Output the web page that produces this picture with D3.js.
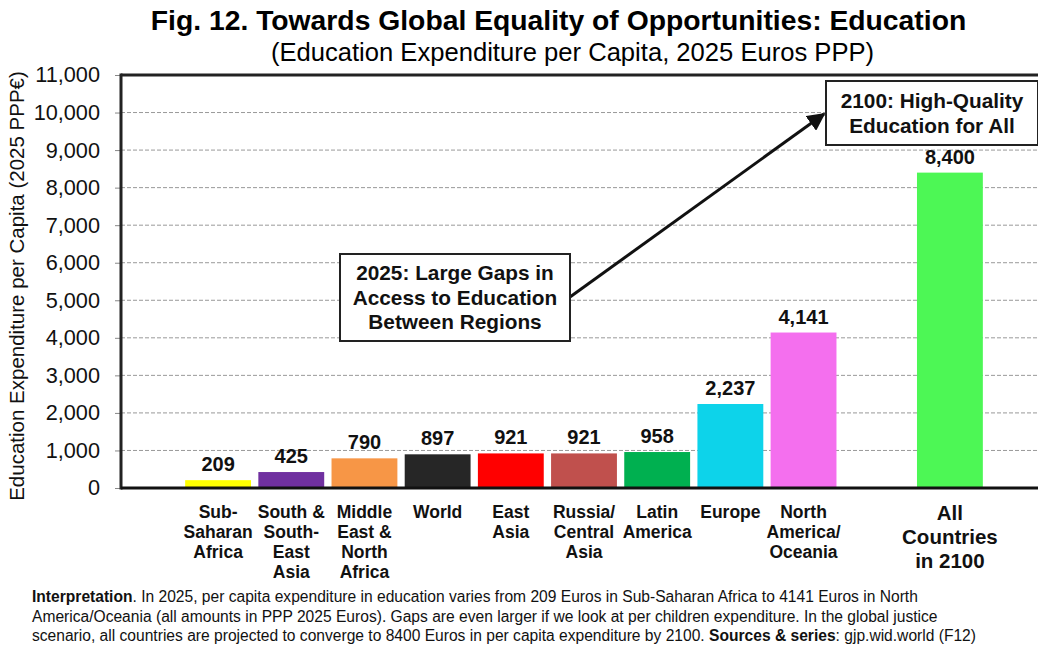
<!DOCTYPE html>
<html><head><meta charset="utf-8">
<script src="https://cdn.jsdelivr.net/npm/d3@7"></script>
<style>body{margin:0;background:#fff}svg{display:block}</style>
</head><body>
<svg id="c" width="1038" height="648"></svg>
<script>
const categories = ["Sub-Saharan Africa","South & South-East Asia","Middle East & North Africa","World","East Asia","Russia/ Central Asia","Latin America","Europe","North America/ Oceania","gap","All Countries in 2100"];
const categoryLines = [["Sub-","Saharan","Africa"],["South &","South-","East","Asia"],["Middle","East &","North","Africa"],["World"],["East","Asia"],["Russia/","Central","Asia"],["Latin","America"],["Europe"],["North","America/","Oceania"],[],["All","Countries","in 2100"]];
const values = [209,425,790,897,921,921,958,2237,4141,null,8400];
const colors = ["#FFFF00","#7030A0","#F79646","#262626","#FF0000","#C0504D","#00B050","#0DD3EA","#F46FEE",null,"#4DF755"];
const yTicks = [0,1000,2000,3000,4000,5000,6000,7000,8000,9000,10000,11000];

const svg = d3.select("#c");
const font = "'Liberation Sans', Arial, sans-serif";
const pLeft = 121, pRight = 1040, pTop = 75, pBottom = 488;
const y = d3.scaleLinear().domain([0,11000]).range([pBottom, pTop]);
const x = d3.scaleBand().domain(categories).range([181.5, 986.5]).paddingInner(0.1).paddingOuter(0.05);

// title
svg.append("text").attr("x",558.5).attr("y",30).attr("text-anchor","middle")
  .style("font-family",font).style("font-weight","bold").style("font-size","28.3px")
  .text("Fig. 12. Towards Global Equality of Opportunities: Education");
svg.append("text").attr("x",572.5).attr("y",61).attr("text-anchor","middle")
  .style("font-family",font).style("font-size","25.6px")
  .text("(Education Expenditure per Capita, 2025 Euros PPP)");

// grid
svg.append("g").selectAll("line").data(yTicks.filter(d=>d>0 && d<11000)).join("line")
  .attr("x1",pLeft).attr("x2",pRight).attr("y1",d=>y(d)).attr("y2",d=>y(d))
  .attr("stroke","#999").attr("stroke-width",1).attr("stroke-dasharray","4,2");

// y axis
const ya = svg.append("g").attr("transform",`translate(${pLeft},0)`)
  .call(d3.axisLeft(y).tickValues(yTicks).tickSize(6).tickPadding(15).tickFormat(d3.format(",")));
ya.select(".domain").remove();
ya.selectAll(".tick line").attr("stroke","#888");
ya.selectAll("text").style("font-family",font).style("font-size","21.7px").attr("fill","#111");

// frame
svg.append("line").attr("x1",pLeft).attr("x2",pRight).attr("y1",pTop).attr("y2",pTop).attr("stroke","#222").attr("stroke-width",3);
svg.append("line").attr("x1",pLeft).attr("x2",pLeft).attr("y1",pTop-1.5).attr("y2",pBottom+1.5).attr("stroke","#222").attr("stroke-width",3);

// bars
const data = categories.map((c,i)=>({c,v:values[i],col:colors[i],lines:categoryLines[i],i})).filter(d=>d.v!=null);
svg.append("g").selectAll("rect").data(data).join("rect")
  .attr("x",d=>x(d.c)).attr("width",x.bandwidth())
  .attr("y",d=>y(d.v)).attr("height",d=>y(0)-y(d.v)).attr("fill",d=>d.col);

svg.append("line").attr("x1",pLeft).attr("x2",pRight).attr("y1",pBottom).attr("y2",pBottom).attr("stroke","#111").attr("stroke-width",3);

// value labels
svg.append("g").selectAll("text").data(data).join("text")
  .attr("x",d=>x(d.c)+x.bandwidth()/2).attr("y",d=>y(d.v)-9).attr("text-anchor","middle")
  .style("font-family",font).style("font-weight","bold").style("font-size","20px").attr("fill","#111")
  .text(d=>d3.format(",")(d.v));

// category labels
const cl = svg.append("g").selectAll("text").data(data).join("text")
  .attr("x",d=>x(d.c)+x.bandwidth()/2).attr("text-anchor","middle")
  .style("font-family",font).style("font-weight","bold")
  .style("font-size",d=>d.i===10?"20.5px":"17.5px").attr("fill","#111");
cl.each(function(d){
  const big = d.i===10;
  d3.select(this).selectAll("tspan").data(d.lines).join("tspan")
    .attr("x",x(d.c)+x.bandwidth()/2)
    .attr("y",(t,j)=> (big?520:518) + j*(big?24:20))
    .text(t=>t);
});

// annotation boxes
function box(x0,y0,w,h,lines,cy,lh){
  svg.append("rect").attr("x",x0).attr("y",y0).attr("width",w).attr("height",h)
    .attr("fill","#fff").attr("stroke","#222").attr("stroke-width",2);
  const t = svg.append("text").attr("text-anchor","middle").style("font-family",font)
    .style("font-weight","bold").style("font-size","20.8px").attr("fill","#111");
  lines.forEach((l,j)=>t.append("tspan").attr("x",x0+w/2).attr("y",cy+j*lh).text(l));
}
// arrow
svg.append("defs").append("marker").attr("id","ah").attr("viewBox","0 0 10 10").attr("refX",9).attr("refY",5)
  .attr("markerWidth",6).attr("markerHeight",6).attr("orient","auto")
  .append("path").attr("d","M0,0L10,5L0,10z").attr("fill","#111");
svg.append("line").attr("x1",570).attr("y1",297).attr("x2",824).attr("y2",114)
  .attr("stroke","#111").attr("stroke-width",3).attr("marker-end","url(#ah)");

box(340,254,230,87,["2025: Large Gaps in","Access to Education","Between Regions"],280,24.5);
box(826,81,212,64,["2100: High-Quality","Education for All"],108,25);

// y axis title
svg.append("text").attr("transform","translate(24,286) rotate(-90)").attr("text-anchor","middle")
  .style("font-family",font).style("font-size","20.5px").attr("fill","#111")
  .text("Education Expenditure per Capita (2025 PPP€)");

// footer
const foot = svg.append("text").style("font-family",font).style("font-size","15.6px").attr("fill","#111");
const l1 = foot.append("tspan").attr("x",32).attr("y",602);
l1.append("tspan").style("font-weight","bold").text("Interpretation");
l1.append("tspan").text(". In 2025, per capita expenditure in education varies from 209 Euros in Sub-Saharan Africa to 4141 Euros in North");
foot.append("tspan").attr("x",32).attr("y",621.5).text("America/Oceania (all amounts in PPP 2025 Euros). Gaps are even larger if we look at per children expenditure. In the global justice");
const l3 = foot.append("tspan").attr("x",32).attr("y",641);
l3.append("tspan").text("scenario, all countries are projected to converge to 8400 Euros in per capita expenditure by 2100. ");
l3.append("tspan").style("font-weight","bold").text("Sources & series");
l3.append("tspan").text(": gjp.wid.world (F12)");
</script>
</body></html>
